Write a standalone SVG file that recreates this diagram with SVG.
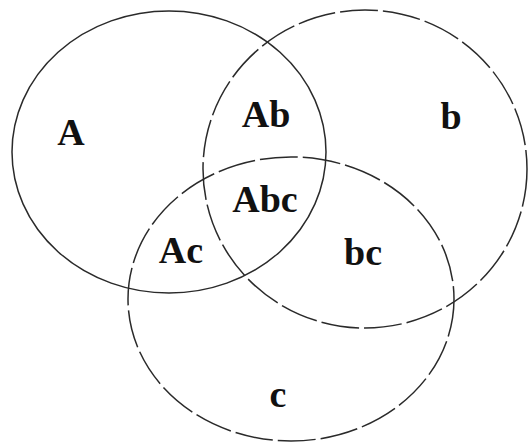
<svg xmlns="http://www.w3.org/2000/svg" width="530" height="445" viewBox="0 0 530 445">
<style>
.set{fill:none;stroke:#2a2a2a;stroke-width:1.5}
.dash{stroke-dasharray:38 5}
.lbl{font-family:"Liberation Serif","Times New Roman",serif;font-weight:bold;font-size:38px;fill:#111;text-anchor:middle}
</style>
<rect width="530" height="445" fill="#fff"/>
<g id="set-A"><ellipse class="set" cx="169" cy="152" rx="157" ry="141"/></g>
<g id="set-b"><ellipse class="set dash" cx="365" cy="169" rx="162" ry="159"/></g>
<g id="set-c"><ellipse class="set dash" cx="291" cy="299" rx="163" ry="142"/></g>
<g id="labels">
<text class="lbl" x="71" y="145">A</text>
<text class="lbl" x="266" y="127">Ab</text>
<text class="lbl" x="451" y="129">b</text>
<text class="lbl" x="265" y="212">Abc</text>
<text class="lbl" x="181" y="263">Ac</text>
<text class="lbl" x="363" y="265">bc</text>
<text class="lbl" x="278" y="407">c</text>
</g>
</svg>
